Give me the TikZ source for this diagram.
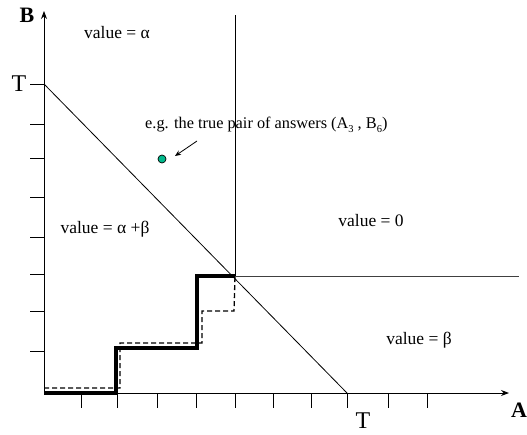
\documentclass[tikz,border=0pt]{standalone}
\usepackage{fontspec}
\setmainfont{Liberation Serif}
\usetikzlibrary{arrows.meta}
\newcommand{\lowsub}[1]{\raisebox{-4pt}{\fontsize{10.5}{12}\selectfont #1}}
\begin{document}
\begin{tikzpicture}[x=1pt,y=-1pt,
  axis/.style={line width=0.9pt,-{Stealth[length=8pt,width=6pt]}},
  thin/.style={line width=0.8pt},
  tick/.style={line width=0.8pt},
  thickstair/.style={line width=4pt,line join=miter},
  dashstair/.style={line width=1.3pt,dash pattern=on 5pt off 3pt},
  lbl/.style={inner sep=0pt,font=\fontsize{17.5}{21}\selectfont},
  lblsmall/.style={inner sep=0pt,font=\fontsize{16.3}{20}\selectfont},
  big/.style={inner sep=0pt,font=\fontsize{24}{28}\selectfont},
  axlbl/.style={inner sep=0pt,font=\fontsize{22}{26}\selectfont\bfseries}]
\useasboundingbox (0,0) rectangle (527,434);
% key coordinates
\coordinate (O) at (44,393);
\coordinate (Ytop) at (44,11);
\coordinate (Xend) at (509,393);
\coordinate (Tb) at (44,84);
\coordinate (Ta) at (347,393);
\coordinate (C) at (235,276);
\coordinate (Vtop) at (235,15);
\coordinate (Hend) at (519,276);
% axes
\draw[axis] (O) -- (Ytop);
\draw[axis] (O) -- (Xend);
% ticks
\foreach \y in {84,124,158,197,237,274,311,351}
  \draw[tick] (30,\y) -- (44,\y);
\foreach \x in {81,117,157,196,235,273,311,347,388,427}
  \draw[tick] (\x,393) -- (\x,408);
% region lines
\draw[thin] (Tb) -- (Ta);
\draw[thin] (Vtop) -- (C);
\draw[thin,draw=black!75] (C) -- (Hend);
% staircases
\draw[dashstair] (44,388) -- (120,388) -- (120,343) -- (202,343) -- (202,311) -- (234,311) -- (C);
\draw[thickstair] (O) -- (116,393) -- (116,348) -- (197,348) -- (197,276) -- (C);
% labels
\node[axlbl] (B) at (27,15) {B};
\node[axlbl] (A) at (519,410) {A};
\node[big] (TB) at (19,84) {T};
\node[big] (TA) at (363,421) {T};
\node[lbl] (va) at (117,33) {value = α};
\node[lbl] (vab) at (105,229) {value = α +β};
\node[lbl] (v0) at (371,221) {value = 0};
\node[lbl] (vb) at (419,340) {value = β};
\node[lblsmall,anchor=base west] (eg) at (145,128) {e.g. the true pair of answers (A\lowsub{3} , B\lowsub{6})};
% true pair dot
\node[circle,draw=black,line width=0.7pt,fill={rgb,255:red,0;green,185;blue,140},minimum size=8pt,inner sep=0pt] (dot) at (162,159) {};
\coordinate (arrS) at (197,141);
\coordinate (arrE) at (175,156);
\draw[thin,-{Stealth[length=6pt,width=5pt]}] (arrS) -- (arrE);
\end{tikzpicture}
\end{document}
